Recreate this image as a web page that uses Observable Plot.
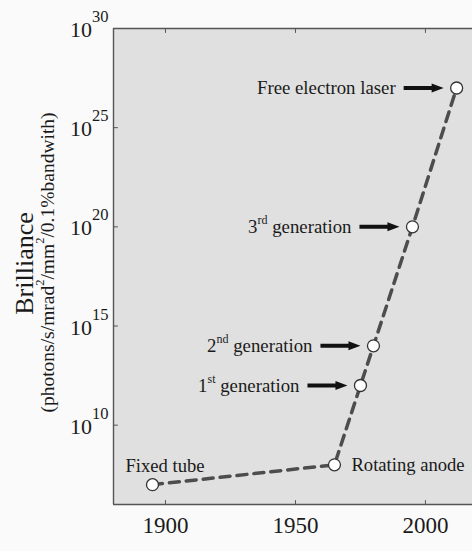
<!DOCTYPE html>
<html><head><meta charset="utf-8">
<script src="https://cdn.jsdelivr.net/npm/d3@7"></script>
<script src="https://cdn.jsdelivr.net/npm/@observablehq/plot@0.6"></script>
<style>html,body{margin:0;padding:0;background:#fafafa;}</style>
</head><body><div id="chart"></div>
<script>
const years = [1895, 1965, 1975, 1980, 1995, 2012];
const brilliance = [1e7, 1e8, 1e12, 1e14, 1e20, 1e27];
const sources = ["Fixed tube", "Rotating anode", "1^{st} generation", "2^{nd} generation", "3^{rd} generation", "Free electron laser"];
const xTicks = [1900, 1950, 2000];
const yTicks = [1e10, 1e15, 1e20, 1e25, 1e30];
const xDomain = [1880, 2018.1];
const yDomain = [1e6, 1e30];
const yTitle = "Brilliance";
const ySubtitle = "(photons/s/mrad^{2}/mm^{2}/0.1%bandwith)";

const data = years.map((year, i) => ({year, value: brilliance[i], label: sources[i]}));
const arrowed = data.slice(2);

const font = "'Liberation Serif', 'Times New Roman', Times, serif";
const axisColor = "#555";
const tickShape = {draw(ctx, l) { ctx.moveTo(0, 0); ctx.lineTo(0, -l); }};
const arrowSymbol = {draw(ctx) {
  ctx.moveTo(-53, -2); ctx.lineTo(-25, -2); ctx.lineTo(-25, -4.5); ctx.lineTo(-13, 0);
  ctx.lineTo(-25, 4.5); ctx.lineTo(-25, 2); ctx.lineTo(-53, 2); ctx.closePath();
}};

const chart = Plot.plot({
  width: 472,
  height: 551,
  marginTop: 28,
  marginBottom: 47,
  marginLeft: 113,
  marginRight: 0,
  style: {fontFamily: font, background: "#fafafa", color: "#1a1a1a"},
  x: {domain: xDomain, axis: null},
  y: {type: "log", domain: yDomain, axis: null},
  marks: [
    Plot.frame({fill: "#e0e0e0", stroke: "none"}),
    Plot.ruleX([xDomain[0]], {stroke: axisColor, strokeWidth: 1.4}),
    Plot.ruleY([yDomain[0]], {stroke: axisColor, strokeWidth: 1.4}),
    Plot.ruleY([yDomain[1]], {stroke: axisColor, strokeWidth: 1.4}),
    Plot.vector(xTicks, {x: d => d, y: yDomain[0], length: 4, rotate: 0, anchor: "start", shape: tickShape, stroke: axisColor, strokeWidth: 1}),
    Plot.vector(xTicks, {x: d => d, y: yDomain[1], length: 4, rotate: 180, anchor: "start", shape: tickShape, stroke: axisColor, strokeWidth: 1}),
    Plot.vector(yTicks, {x: xDomain[0], y: d => d, length: 4, rotate: 90, anchor: "start", shape: tickShape, stroke: axisColor, strokeWidth: 1}),
    Plot.text(xTicks, {x: d => d, text: d => String(d), frameAnchor: "bottom", textAnchor: "middle", lineAnchor: "top", dy: 12, fontSize: 23}),
    Plot.text(yTicks, {y: d => d, text: d => "10^{" + Math.round(Math.log10(d)) + "}", frameAnchor: "left", textAnchor: "end", lineAnchor: "middle", dx: -5, dy: 1.5, fontSize: 22}),
    Plot.text([yTitle], {text: d => d, frameAnchor: "left", textAnchor: "middle", rotate: -90, dx: -81, dy: -3, lineAnchor: "bottom", fontSize: 26}),
    Plot.text([ySubtitle], {text: d => d, frameAnchor: "left", textAnchor: "middle", rotate: -90, dx: -60, dy: -4, lineAnchor: "bottom", fontSize: 19.5}),
    Plot.line(data, {x: "year", y: "value", stroke: "#4d4d4d", strokeWidth: 3.5, strokeDasharray: "10,7"}),
    Plot.dot(arrowed, {x: "year", y: "value", symbol: arrowSymbol, fill: "#111", stroke: "none", r: 5}),
    Plot.dot(data, {x: "year", y: "value", r: 6, fill: "white", stroke: "#333", strokeWidth: 1.3}),
    Plot.text(arrowed, {x: "year", y: "value", text: "label", textAnchor: "end", dx: -61, fontSize: 18.8}),
    Plot.text([data[0]], {x: "year", y: "value", text: "label", textAnchor: "start", dx: -27, dy: -13, lineAnchor: "bottom", fontSize: 18.6}),
    Plot.text([data[1]], {x: "year", y: "value", text: "label", textAnchor: "start", dx: 17, fontSize: 18.6})
  ]
});
document.getElementById("chart").appendChild(chart);

// Turn "^{...}" markers into real superscript tspans
const ns = "http://www.w3.org/2000/svg";
chart.querySelectorAll("text").forEach(t => {
  const s = t.textContent;
  if (!s.includes("^{")) return;
  const fs = parseFloat(getComputedStyle(t).fontSize);
  const isTick = s.startsWith("10^{");
  const supFs = fs * (isTick ? 0.75 : 0.64);
  const raise = fs * (isTick ? 0.68 : 0.48);
  t.textContent = "";
  t.style.whiteSpace = "pre";
  const parts = s.split(/\^\{([^}]*)\}/);
  let shifted = false;
  parts.forEach((p, i) => {
    if (!p) return;
    const ts = document.createElementNS(ns, "tspan");
    ts.textContent = p;
    if (i % 2 === 1) {
      ts.setAttribute("font-size", supFs);
      ts.setAttribute("dy", -raise);
      shifted = true;
    } else if (shifted) {
      ts.setAttribute("dy", raise);
      shifted = false;
    }
    t.appendChild(ts);
  });
});
</script>
</body></html>
